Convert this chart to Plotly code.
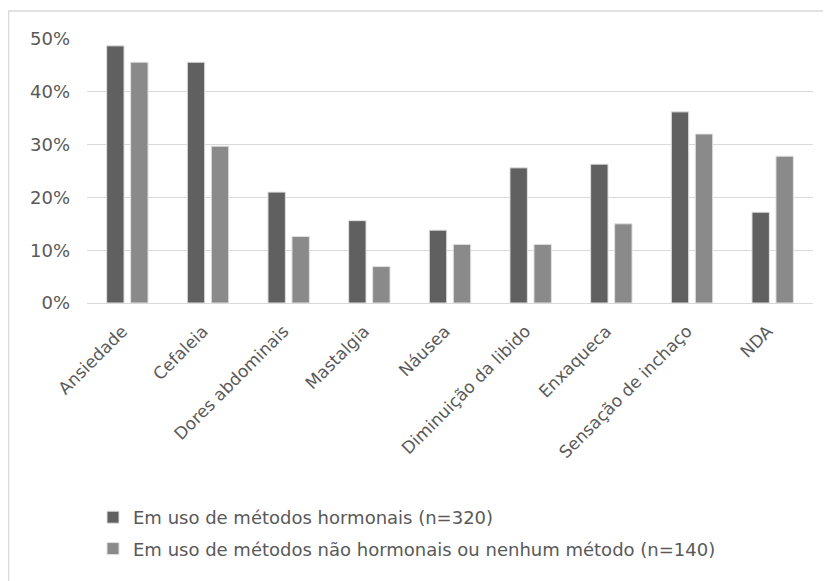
import plotly.graph_objects as go

categories = ["Ansiedade", "Cefaleia", "Dores abdominais", "Mastalgia", "Náusea",
              "Diminuição da libido", "Enxaqueca", "Sensação de inchaço", "NDA"]
hormonais = [0.487, 0.456, 0.210, 0.156, 0.138, 0.256, 0.263, 0.362, 0.172]
nao_hormonais = [0.456, 0.297, 0.126, 0.069, 0.111, 0.111, 0.150, 0.320, 0.278]
series_names = ["Em uso de métodos hormonais (n=320)",
                "Em uso de métodos não hormonais ou nenhum método (n=140)"]
y_ticks = [0, 0.1, 0.2, 0.3, 0.4, 0.5]
y_ticklabels = ["0%", "10%", "20%", "30%", "40%", "50%"]

FONT = "DejaVu Sans, Liberation Sans, Arial, sans-serif"
TXT = "#595959"

fig = go.Figure()
fig.add_trace(go.Bar(x=categories, y=hormonais, name=series_names[0],
                     marker=dict(color="#606060", line=dict(color="#e0e0e0", width=1)),
                     legendgroup="a"))
fig.add_trace(go.Bar(x=categories, y=nao_hormonais, name=series_names[1],
                     marker=dict(color="#8a8a8a", line=dict(color="#e0e0e0", width=1)),
                     legendgroup="b"))

W, H = 823, 573
L, R, T, B = 79, 18, 31, 278
PW, PH = W - L - R, H - T - B

fig.update_layout(
    width=W, height=H,
    margin=dict(l=L, r=R, t=T, b=B),
    paper_bgcolor="white", plot_bgcolor="white",
    barmode="group", bargap=0.405, bargroupgap=0.275,
    font=dict(family=FONT, size=17, color=TXT),
    showlegend=True,
    legend=dict(x=(85 - L) / PW, y=(H - B - 491) / PH,
                xanchor="left", yanchor="top", orientation="v",
                traceorder="grouped", tracegroupgap=5,
                font=dict(family=FONT, size=18, color=TXT),
                itemwidth=30, bgcolor="rgba(0,0,0,0)"),
    xaxis=dict(tickangle=-45, showgrid=False, showline=False, ticks="",
               ticklabelshift=-5, ticklabelstandoff=14,
               tickfont=dict(family=FONT, size=17, color=TXT)),
    yaxis=dict(range=[0, 0.5], tickvals=y_ticks, ticktext=y_ticklabels,
               showgrid=True, gridcolor="#d9d9d9", gridwidth=1,
               zeroline=True, zerolinecolor="#d9d9d9", zerolinewidth=1,
               showline=False, ticks="", ticklabelstandoff=16,
               tickfont=dict(family=FONT, size=18, color=TXT)),
    shapes=[dict(type="rect", xref="paper", yref="paper",
                 x0=(0.5 - L) / PW, x1=(W + 10 - L) / PW,
                 y0=(H - B - (H + 10)) / PH, y1=(H - B - 3) / PH,
                 line=dict(color="#d9d9d9", width=1.5), fillcolor="rgba(0,0,0,0)",
                 layer="below")],
)

fig.write_html("out.html")
